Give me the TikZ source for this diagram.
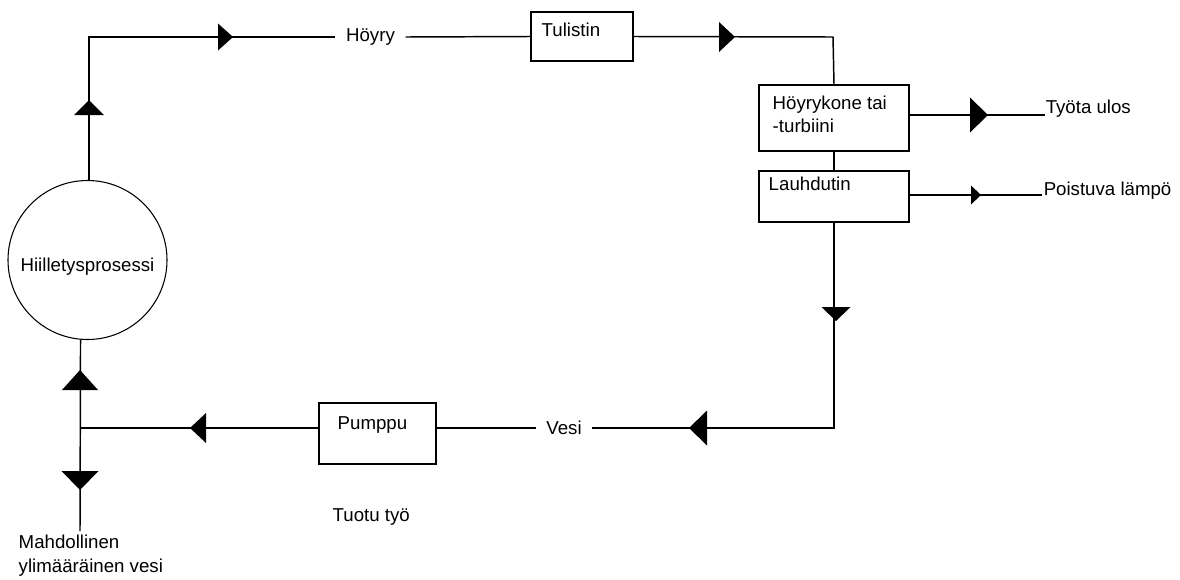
\documentclass[tikz,border=0pt]{standalone}
\usepackage{fontspec}
\setmainfont{Liberation Sans}
\begin{document}
\begin{tikzpicture}[x=0.75pt,y=-0.75pt,line width=1.1pt,
  box/.style={draw,rectangle,inner sep=0pt,line width=1.1pt},
  lbl/.style={inner sep=0pt,font=\fontsize{14}{16}\selectfont},
  gaplbl/.style={lbl,inner xsep=7.5pt},
  tipfill/.style={fill=black,draw=none}]
\useasboundingbox (0,0) rectangle (1180,579);
% nodes
\node[draw,circle,line width=0.8pt,minimum size=119.25pt,inner sep=0pt] (circ) at (87.5,260) {};
\node[lbl] (circtxt) at (87.5,267) {Hiilletysprosessi};
\node[box,minimum width=76.5pt,minimum height=36.75pt] (tul) at (582,36.5) {};
\node[lbl,anchor=west] (tultxt) at (541,30) {Tulistin};
\node[box,minimum width=112.5pt,minimum height=49.5pt] (hk) at (834,118) {};
\node[lbl,anchor=west,align=left] (hktxt) at (772,114) {Höyrykone tai\\[1pt]-turbiini};
\node[box,minimum width=112.5pt,minimum height=38.25pt] (la) at (834,196.5) {};
\node[lbl,anchor=west] (latxt) at (768,184) {Lauhdutin};
\node[box,minimum width=87.75pt,minimum height=45.75pt] (pump) at (377.5,433.5) {};
\node[lbl,anchor=west] (pumptxt) at (337,425) {Pumppu};
\node[gaplbl] (hoyry) at (370.5,37) {Höyry};
\node[gaplbl] (vesi) at (564,428) {Vesi};
\node[lbl,anchor=west] (tyo) at (1045,109) {Työta ulos};
\node[lbl,anchor=west] (poist) at (1043,191) {Poistuva lämpö};
\node[lbl,anchor=west] (tuotu) at (332,517) {Tuotu työ};
\node[lbl,anchor=north west,align=left] (mah) at (18,534) {Mahdollinen\\[2pt]ylimääräinen vesi};
% coordinates
\coordinate (j) at (80,428);
\coordinate (bot) at (80,531);
\coordinate (tr) at (833,37);
\coordinate (tyoend) at (1045,115);
\coordinate (poend) at (1042,195);
% connectors
\draw (circ.89) |- (hoyry.west);
\draw (hoyry.east) -- (tul.west);
\draw (tul.east) -- (tr) -- (hk.north);
\draw (hk.east |- tyoend) -- (tyoend);
\draw (hk.south) -- (la.north);
\draw (la.east |- poend) -- (poend);
\draw (la.south) -- (la.south |- j) -- (vesi.east);
\draw (vesi.west) -- (pump.east |- j);
\draw (pump.west |- j) -- (j);
\draw (circ.-95) -- (bot);
% arrowheads
\fill[tipfill] (89,100) -- (74,115) -- (104,115) -- cycle;
\fill[tipfill] (233,37) -- (218,23.5) -- (218,50.5) -- cycle;
\fill[tipfill] (735,37) -- (719,22) -- (719,52) -- cycle;
\fill[tipfill] (988,115) -- (970,97.5) -- (970,132.5) -- cycle;
\fill[tipfill] (981,195) -- (971,185.5) -- (971,204.5) -- cycle;
\fill[tipfill] (836,321) -- (821.5,307) -- (850.5,307) -- cycle;
\fill[tipfill] (689,428) -- (707,410.5) -- (707,445.5) -- cycle;
\fill[tipfill] (190,428) -- (206,413) -- (206,443) -- cycle;
\fill[tipfill] (80,370) -- (62,390) -- (98,390) -- cycle;
\fill[tipfill] (80,490) -- (61.5,471) -- (98.5,471) -- cycle;
\end{tikzpicture}
\end{document}
